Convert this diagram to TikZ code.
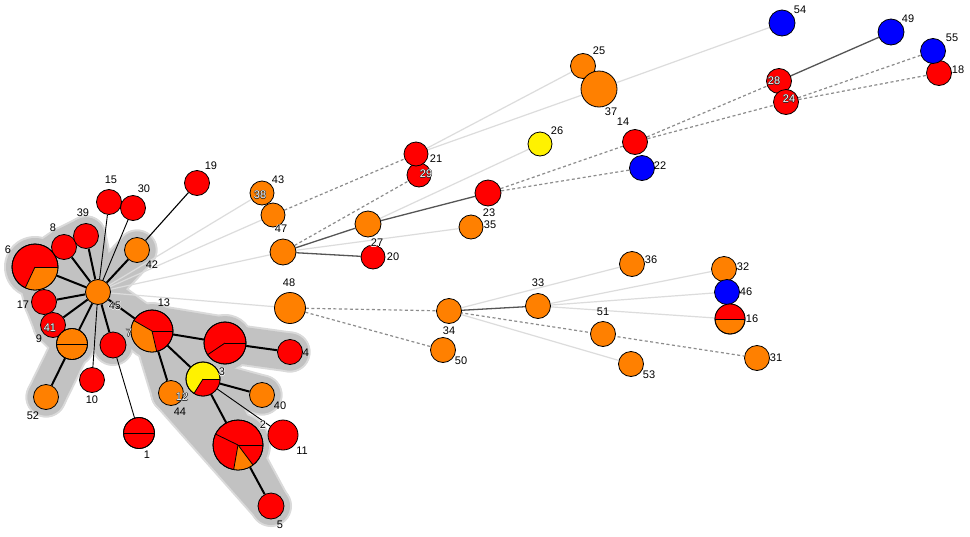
\documentclass[tikz,border=0pt]{standalone}
\usepackage{fontspec}
\setmainfont{Liberation Sans}
\pgfdeclarelayer{halo}
\pgfdeclarelayer{edges}
\pgfsetlayers{halo,edges,main}
\definecolor{oran}{RGB}{255,128,0}
\definecolor{haloin}{RGB}{194,194,194}
\definecolor{haloout}{RGB}{218,218,218}
\definecolor{lite}{RGB}{220,220,220}
\definecolor{dgray}{RGB}{85,85,85}
\definecolor{dashcol}{RGB}{140,140,140}
\newcommand\wtxt[1]{\rlap{\kern-0.6pt\textcolor{black!85}{#1}}\rlap{\kern0.6pt\textcolor{black!85}{#1}}\rlap{\raisebox{0.6pt}{\textcolor{black!85}{#1}}}\rlap{\raisebox{-0.6pt}{\textcolor{black!85}{#1}}}\textcolor{white}{#1}}
\newcommand\btxt[1]{\rlap{\kern-0.7pt\textcolor{white}{#1}}\rlap{\kern0.7pt\textcolor{white}{#1}}\rlap{\raisebox{0.7pt}{\textcolor{white}{#1}}}\rlap{\raisebox{-0.7pt}{\textcolor{white}{#1}}}\textcolor{black}{#1}}
\newcommand\pslice[5]{\fill[#5] (#1.center) -- ++(#2:#4pt) arc[start angle=#2,end angle=#3,radius=#4pt] -- cycle;}
\newcommand\pdiv[3]{\draw[black,line width=0.8pt] (#1.center) -- ++(#2:#3pt);}
\newcommand\pring[2]{\draw[black,line width=0.8pt] (#1.center) circle[radius=#2pt];}
\begin{document}
\begin{tikzpicture}[x=1pt,y=-1pt,
 nd/.style={circle,draw=black,line width=0.8pt,inner sep=0pt,minimum size=25pt},
 lbl/.style={font=\fontsize{11}{12}\selectfont,inner sep=0pt},
 thk/.style={line width=2pt,black},
 thn/.style={line width=0.9pt,black},
 drk/.style={line width=1.3pt,dgray},
 dsh/.style={line width=1.2pt,dashcol,dash pattern=on 3pt off 2.5pt},
 lit/.style={line width=1.2pt,lite}]
\useasboundingbox (0,0) rectangle (970,536);
% ---------- nodes: left cluster
\node[nd,fill=oran] (n45) at (98,292) {};
\node[nd,fill=red,minimum size=46pt] (n6) at (35,267) {};
\node[nd,fill=red] (n8) at (64,247) {};
\node[nd,fill=red] (n39) at (86,236) {};
\node[nd,fill=red] (n15) at (109,202) {};
\node[nd,fill=red] (n30) at (133,208) {};
\node[nd,fill=red] (n19) at (197,183) {};
\node[nd,fill=oran] (n42) at (137,250) {};
\node[nd,fill=red] (n17) at (44,302) {};
\node[nd,fill=red] (n41) at (53,325) {};
\node[nd,fill=oran,minimum size=31pt] (n9) at (72,344) {};
\node[nd,fill=oran] (n52) at (46,397) {};
\node[nd,fill=red] (n10) at (92,380) {};
\node[nd,fill=red,minimum size=26pt] (nR) at (113,345) {};
\node[nd,fill=red,minimum size=31pt] (n1) at (139,433) {};
\node[nd,fill=red,minimum size=42pt] (n13) at (152,331) {};
\node[nd,fill=red,minimum size=42pt] (nB) at (225,343) {};
\node[nd,fill=red] (n4) at (290,352) {};
\node[nd,fill=yellow,minimum size=34pt] (n3) at (203,379) {};
\node[nd,fill=oran] (n12) at (171,393) {};
\node[nd,fill=oran] (n40) at (262,395) {};
\node[nd,fill=red,minimum size=30pt] (n11) at (283,435) {};
\node[nd,fill=red,minimum size=50pt] (n2) at (238,445) {};
\node[nd,fill=red,minimum size=26pt] (n5) at (271,506) {};
% ---------- nodes: middle / right
\node[nd,fill=oran,minimum size=24pt] (n43) at (262,193) {};
\node[nd,fill=oran,minimum size=24pt] (n47) at (273,215) {};
\node[nd,fill=oran,minimum size=26pt] (nT) at (283,252) {};
\node[nd,fill=oran,minimum size=31pt] (n48) at (290,308) {};
\node[nd,fill=red,minimum size=24pt] (n29) at (419,175) {};
\node[nd,fill=red,minimum size=24pt] (n21) at (416,154) {};
\node[nd,fill=oran,minimum size=26pt] (nM) at (368,224) {};
\node[nd,fill=red,minimum size=24pt] (n20) at (373,257) {};
\node[nd,fill=red,minimum size=26pt] (n23) at (488,193) {};
\node[nd,fill=oran,minimum size=24pt] (n35) at (471,227) {};
\node[nd,fill=yellow,minimum size=24pt] (n26) at (540,144) {};
\node[nd,fill=oran] (n25) at (583,66) {};
\node[nd,fill=oran,minimum size=36pt] (n37) at (599,89) {};
\node[nd,fill=red] (n14) at (635,142) {};
\node[nd,fill=blue] (n22) at (642,168) {};
\node[nd,fill=blue,minimum size=26pt] (n54) at (782,23) {};
\node[nd,fill=blue,minimum size=26pt] (n49) at (891,32) {};
\node[nd,fill=red] (n18) at (939,73) {};
\node[nd,fill=blue] (n55) at (933,51) {};
\node[nd,fill=red] (n28) at (779,81) {};
\node[nd,fill=red] (n24) at (786,102) {};
\node[nd,fill=oran] (n34) at (449,311) {};
\node[nd,fill=oran] (n50) at (443,350) {};
\node[nd,fill=oran] (n33) at (538,306) {};
\node[nd,fill=oran] (n51) at (603,334) {};
\node[nd,fill=oran] (n36) at (632,264) {};
\node[nd,fill=oran] (n53) at (631,364) {};
\node[nd,fill=oran] (n31) at (757,358) {};
\node[nd,fill=oran] (n32) at (724,269) {};
\node[nd,fill=oran,minimum size=30pt] (n16) at (730,319) {};
\node[nd,fill=blue] (n46) at (727,292) {};
% ---------- pies
\pslice{n6}{245}{360}{23}{oran}\pdiv{n6}{0}{23}\pdiv{n6}{245}{23}\pring{n6}{23}
\pslice{n13}{150}{283}{21}{oran}\pdiv{n13}{0}{21}\pdiv{n13}{150}{21}\pdiv{n13}{283}{21}\pring{n13}{21}
\pdiv{nB}{0}{21}\pdiv{nB}{214}{21}\pring{nB}{21}
\pslice{n3}{238}{360}{17}{red}\pdiv{n3}{0}{17}\pdiv{n3}{238}{17}\pring{n3}{17}
\pslice{n2}{260}{307}{25}{oran}\pdiv{n2}{0}{25}\pdiv{n2}{154}{25}\pdiv{n2}{260}{25}\pdiv{n2}{307}{25}\pring{n2}{25}
\pdiv{n9}{0}{15.5}\pdiv{n9}{180}{15.5}\pring{n9}{15.5}
\pdiv{n1}{0}{15.5}\pdiv{n1}{180}{15.5}\pring{n1}{15.5}
\pslice{n16}{0}{180}{15}{red}\pdiv{n16}{0}{15}\pdiv{n16}{180}{15}\pring{n16}{15}
% ---------- halo
\begin{pgfonlayer}{halo}
\fill[white] (0,0) rectangle (970,536);
\foreach \a/\b/\w in {n45/n6/37,n45/n8/37,n45/n39/37,n6/n8/37,n8/n39/37,n6/n17/37,n17/n41/37,n45/n17/37,n45/n41/37,n45/n42/37,n45/n9/37,n9/n52/37,n41/n9/37,n45/nR/37,n45/n13/37,n13/nB/50,nB/n4/37,n13/n12/37,n13/n3/44,n3/n40/37,n3/n2/44,n2/n5/37,n12/n5/37,n12/n2/37,n12/n3/37}{
 \pgfmathsetmacro\wo{\w+4}
 \draw[haloout,line width=\wo pt,line cap=round] (\a.center) -- (\b.center);}
\foreach \a/\r in {n6/29,n8/18.5,n39/18.5,n45/18.5,n42/18.5,n17/18.5,n41/18.5,n9/21.5,n52/18.5,nR/19,n13/27,nB/27,n4/18.5,n12/18.5,n3/23,n40/18.5,n2/31,n5/19}{
 \pgfmathsetmacro\ro{\r+2}
 \fill[haloout] (\a.center) circle[radius=\ro pt];}
\foreach \a/\b/\w in {n45/n6/37,n45/n8/37,n45/n39/37,n6/n8/37,n8/n39/37,n6/n17/37,n17/n41/37,n45/n17/37,n45/n41/37,n45/n42/37,n45/n9/37,n9/n52/37,n41/n9/37,n45/nR/37,n45/n13/37,n13/nB/50,nB/n4/37,n13/n12/37,n13/n3/44,n3/n40/37,n3/n2/44,n2/n5/37,n12/n5/37,n12/n2/37,n12/n3/37}{
 \draw[haloin,line width=\w pt,line cap=round] (\a.center) -- (\b.center);}
\foreach \a/\r in {n6/29,n8/18.5,n39/18.5,n45/18.5,n42/18.5,n17/18.5,n41/18.5,n9/21.5,n52/18.5,nR/19,n13/27,nB/27,n4/18.5,n12/18.5,n3/23,n40/18.5,n2/31,n5/19}{
 \fill[haloin] (\a.center) circle[radius=\r pt];}
\end{pgfonlayer}
% ---------- edges
\begin{pgfonlayer}{edges}
\foreach \a/\b in {n45/n6,n45/n8,n45/n39,n45/n42,n45/n17,n45/n41,n45/n9,n9/n52,n45/nR,n45/n13,n13/nB,nB/n4,n13/n12,n13/n3,n3/n40,n3/n2,n2/n5}
 \draw[thk] (\a) -- (\b);
\foreach \a/\b in {n45/n15,n45/n30,n45/n10,nR/n1,n3/n11}
 \draw[thn] (\a) -- (\b);
\draw[thn,line width=1.1pt] (n42) -- (n19);
\foreach \a/\b in {n45/n43,n45/n47,n45/nT,n45/n48,nT/n35,nM/n26,n21/n25,n21/n37,n37/n54,n34/n36,n34/n53,n33/n32,n33/n46,n33/n16}
 \draw[lit] (\a) -- (\b);
\foreach \a/\b in {nT/nM,nT/n20,nM/n23,n28/n49,n34/n33}
 \draw[drk] (\a) -- (\b);
\foreach \a/\b in {n47/n21,nT/n29,n23/n14,n23/n22,n14/n28,n14/n24,n24/n55,n24/n18,n48/n34,n48/n50}
 \draw[dsh] (\a) -- (\b);
\draw[dsh] (n34.center) -- (n31);
\end{pgfonlayer}
% ---------- labels
\node[lbl] (t19) at (211,166) {19};
\node[lbl] (t15) at (111,180) {15};
\node[lbl] (t30) at (144,189) {30};
\node[lbl] (t39) at (83,213) {39};
\node[lbl] (t8) at (53,228) {8};
\node[lbl] (t6) at (8,250) {6};
\node[lbl] (t42) at (152,265) {42};
\node[lbl] (t17) at (23,305) {17};
\node[lbl] (t41) at (50,328) {\wtxt{41}};
\node[lbl] (t9) at (39,339) {9};
\node[lbl] (t45) at (115,306) {\btxt{45}};
\node[lbl] (t13) at (164,303) {13};
\node[lbl] (t7) at (129,333) {\wtxt{7}};
\node[lbl] (t4) at (306,353) {4};
\node[lbl] (t3) at (222,372) {\btxt{3}};
\node[lbl] (t12) at (182,397) {\wtxt{12}};
\node[lbl] (t44) at (180,412) {44};
\node[lbl] (t10) at (92,400) {10};
\node[lbl] (t1) at (147,455) {1};
\node[lbl] (t52) at (33,416) {52};
\node[lbl] (t2) at (263,425) {\btxt{2}};
\node[lbl] (t40) at (280,406) {40};
\node[lbl] (t11) at (302,451) {11};
\node[lbl] (t5) at (280,525) {5};
\node[lbl] (t43) at (278,180) {43};
\node[lbl] (t38) at (260,195) {\wtxt{38}};
\node[lbl] (t47) at (281,229) {\btxt{47}};
\node[lbl] (t48) at (289,283) {48};
\node[lbl] (t21) at (436,159) {21};
\node[lbl] (t29) at (426,174) {\wtxt{29}};
\node[lbl] (t27) at (377,243) {\btxt{27}};
\node[lbl] (t20) at (393,257) {20};
\node[lbl] (t23) at (489,213) {23};
\node[lbl] (t35) at (490,225) {35};
\node[lbl] (t25) at (599,51) {25};
\node[lbl] (t37) at (611,112) {37};
\node[lbl] (t26) at (557,131) {26};
\node[lbl] (t14) at (623,122) {14};
\node[lbl] (t22) at (660,166) {22};
\node[lbl] (t54) at (800,10) {54};
\node[lbl] (t49) at (908,19) {49};
\node[lbl] (t55) at (952,38) {55};
\node[lbl] (t18) at (958,70) {18};
\node[lbl] (t28) at (774,81) {\wtxt{28}};
\node[lbl] (t24) at (789,99) {\wtxt{24}};
\node[lbl] (t34) at (449,331) {34};
\node[lbl] (t50) at (461,361) {50};
\node[lbl] (t33) at (538,283) {33};
\node[lbl] (t51) at (603,312) {51};
\node[lbl] (t36) at (651,260) {36};
\node[lbl] (t32) at (743,267) {32};
\node[lbl] (t46) at (746,292) {46};
\node[lbl] (t16) at (752,319) {16};
\node[lbl] (t31) at (776,358) {31};
\node[lbl] (t53) at (649,375) {53};
\end{tikzpicture}
\end{document}
